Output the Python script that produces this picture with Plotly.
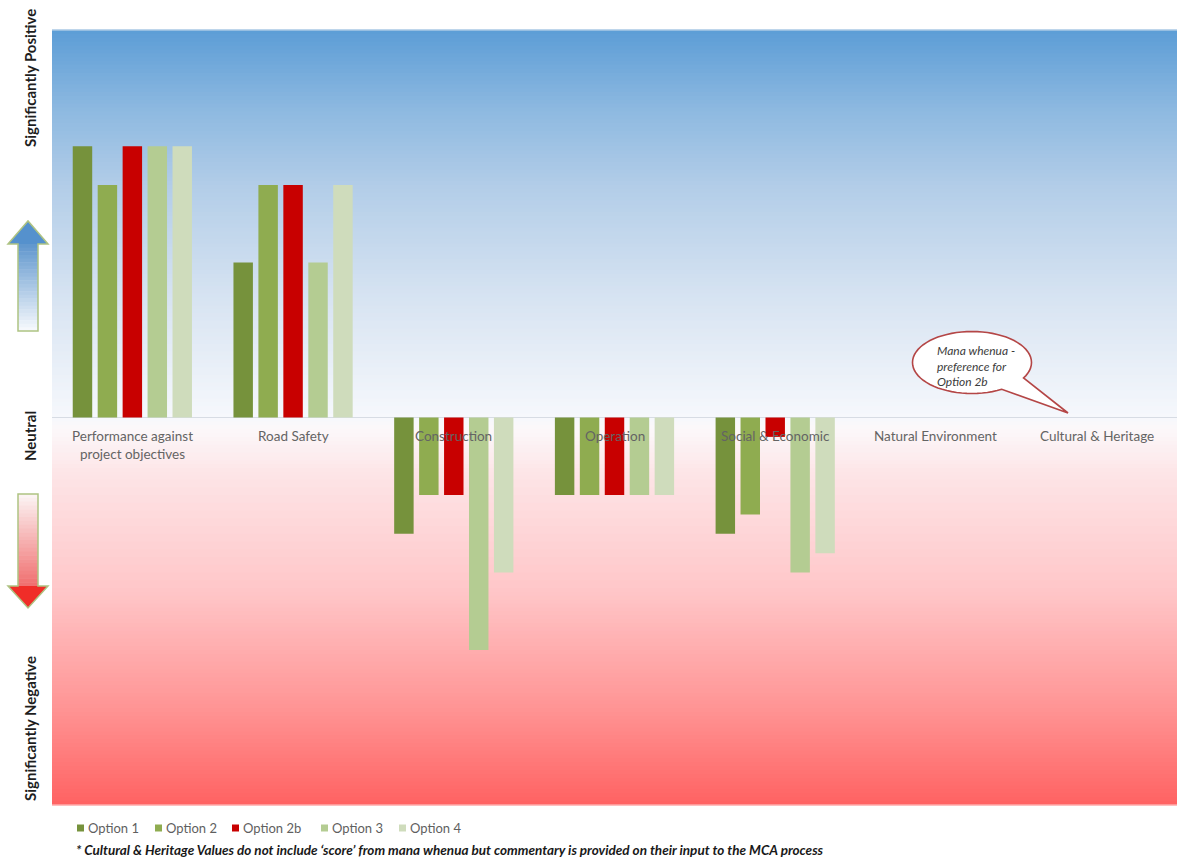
import math
import plotly.graph_objects as go

# ---------------- data ----------------
categories = ["Performance against<br>project objectives", "Road Safety", "Construction",
              "Operation", "Social & Economic", "Natural Environment", "Cultural & Heritage"]
option_names = ["Option 1", "Option 2", "Option 2b", "Option 3", "Option 4"]
option_1 = [7, 4, -3, -2, -3, 0, 0]
option_2 = [6, 6, -2, -2, -2.5, 0, 0]
option_2b = [7, 6, -2, -2, -0.5, 0, 0]
option_3 = [7, 4, -6, -2, -4, 0, 0]
option_4 = [7, 6, -4, -2, -3.5, 0, 0]
series = [option_1, option_2, option_2b, option_3, option_4]
colors = ["rgb(118,146,60)", "rgb(143,172,80)", "rgb(200,0,0)", "rgb(180,204,146)", "rgb(207,220,188)"]

y_labels = ["Significantly Positive", "Neutral", "Significantly Negative"]
bubble_text = "Mana whenua -<br>preference for<br>Option 2b"
footnote = ("* Cultural & Heritage Values do not include \u2018score\u2019 from mana whenua "
            "but commentary is provided on their input to the MCA process")

# ---------------- geometry helpers (pixel -> paper) ----------------
WIDTH, HEIGHT = 1177, 862
L, T, R, B = 52, 30, 0, 57
PW, PH = WIDTH - L - R, HEIGHT - T - B
FONT = "Lato, 'Open Sans', sans-serif"


def px(x):
    return (x - L) / PW


def py(y):
    return (T + PH - y) / PH


def lerp(c1, c2, t):
    return tuple(c1[i] + (c2[i] - c1[i]) * t for i in range(3))


def rgb(c):
    return "rgb(%d,%d,%d)" % tuple(int(round(v)) for v in c)


# background gradient stops (value, colour)
bg_stops = [(-10, (255, 98, 98)), (-7.5, (255, 148, 148)), (-4.5, (255, 198, 200)),
            (-1.5, (253, 228, 230)), (-0.3, (252, 248, 250)), (0, (246, 248, 252)),
            (3, (216, 228, 242)), (6, (178, 205, 232)), (8, (140, 184, 224)),
            (10, (92, 157, 214))]


def bg_color(v):
    for (v0, c0), (v1, c1) in zip(bg_stops[:-1], bg_stops[1:]):
        if v0 <= v <= v1:
            return lerp(c0, c1, (v - v0) / (v1 - v0))
    return bg_stops[-1][1]


fig = go.Figure()

for name, vals, col in zip(option_names, series, colors):
    fig.add_trace(go.Bar(x=categories, y=vals, name=name, marker=dict(color=col, line=dict(width=0)),
                         showlegend=False, hoverinfo="x+y+name"))

shapes = []
# gradient background stripes
n = 200
for i in range(n):
    v0 = -10 + 20 * i / n
    v1 = -10 + 20 * (i + 1) / n
    shapes.append(dict(type="rect", xref="paper", yref="y", x0=0, x1=1, y0=v0, y1=v1 + 0.02,
                       fillcolor=rgb(bg_color((v0 + v1) / 2)), line=dict(width=0), layer="below"))
# zero line
shapes.append(dict(type="line", xref="paper", yref="y", x0=0, x1=1, y0=0, y1=0,
                   line=dict(color="rgb(215,220,228)", width=1), layer="below"))
# thin light edges at top and bottom of plot area
shapes.append(dict(type="line", xref="paper", yref="paper", x0=0, x1=1, y0=1, y1=1,
                   line=dict(color="rgb(170,200,228)", width=1.5), layer="below"))
shapes.append(dict(type="line", xref="paper", yref="paper", x0=0, x1=1, y0=0, y1=0,
                   line=dict(color="rgb(255,170,170)", width=1.5), layer="below"))


# arrows on the left
def arrow(shaft_top, shaft_bot, head_base, tip, c_top, c_bot, head_col, up=True):
    m = 24
    for i in range(m):
        y0 = shaft_top + (shaft_bot - shaft_top) * i / m
        y1 = shaft_top + (shaft_bot - shaft_top) * (i + 1) / m
        shapes.append(dict(type="rect", xref="paper", yref="paper", x0=px(18), x1=px(38),
                           y0=py(y1 + 0.5), y1=py(y0), fillcolor=rgb(lerp(c_top, c_bot, (i + 0.5) / m)),
                           line=dict(width=0)))
    hp = "M %f,%f L %f,%f L %f,%f Z" % (px(8), py(head_base), px(48), py(head_base), px(28), py(tip))
    shapes.append(dict(type="path", xref="paper", yref="paper", path=hp, fillcolor=head_col,
                       line=dict(width=0)))
    if up:
        pts = [(18, shaft_bot), (18, head_base), (8, head_base), (28, tip), (48, head_base),
               (38, head_base), (38, shaft_bot)]
    else:
        pts = [(18, shaft_top), (18, head_base), (8, head_base), (28, tip), (48, head_base),
               (38, head_base), (38, shaft_top)]
    op = "M " + " L ".join("%f,%f" % (px(a), py(b)) for a, b in pts) + " Z"
    shapes.append(dict(type="path", xref="paper", yref="paper", path=op,
                       line=dict(color="rgb(175,195,130)", width=1.5)))


arrow(244, 331, 244, 221, (95, 150, 205), (248, 250, 253), "rgb(85,145,205)", up=True)
arrow(494, 586, 586, 608, (252, 246, 246), (240, 110, 110), "rgb(240,45,40)", up=False)

# speech bubble
cx, cy, rx, ry = 972, 362.5, 59.5, 31
pts = []
for k in range(0, 331, 5):
    a = math.radians(60 + k)
    pts.append((cx + rx * math.cos(a), cy + ry * math.sin(a)))
pts.append((1068, 413))
bp = "M " + " L ".join("%f,%f" % (px(a), py(b)) for a, b in pts) + " Z"
shapes.append(dict(type="path", xref="paper", yref="paper", path=bp, fillcolor="white",
                   line=dict(color="rgb(180,70,70)", width=1.6), layer="above"))

# legend squares
legend_x = [77, 155, 232, 321, 399]
for lx, col in zip(legend_x, colors):
    shapes.append(dict(type="rect", xref="paper", yref="paper", x0=px(lx), x1=px(lx + 7),
                       y0=py(831.5), y1=py(824.5), fillcolor=col, line=dict(width=0)))

annotations = []
for c in categories:
    annotations.append(dict(x=c, y=0, xref="x", yref="y", text=c, showarrow=False, yanchor="top",
                            yshift=-8, font=dict(family=FONT, size=13.5, color="rgb(100,100,100)")))
for lab, yy in zip(y_labels, [78, 436, 729]):
    annotations.append(dict(x=px(30), y=py(yy), xref="paper", yref="paper", text="<b>%s</b>" % lab,
                            textangle=-90, showarrow=False, xanchor="center", yanchor="middle",
                            font=dict(family=FONT, size=15, color="rgb(30,30,30)")))
annotations.append(dict(x=px(935), y=py(366), xref="paper", yref="paper", text="<i>%s</i>" % bubble_text,
                        showarrow=False, xanchor="left", yanchor="middle", align="left",
                        font=dict(family=FONT, size=12, color="rgb(60,60,60)")))
for lx, name in zip(legend_x, option_names):
    annotations.append(dict(x=px(lx + 9), y=py(828), xref="paper", yref="paper", text=name,
                            showarrow=False, xanchor="left", yanchor="middle",
                            font=dict(family=FONT, size=13, color="rgb(95,95,95)")))
annotations.append(dict(x=px(74), y=py(850), xref="paper", yref="paper", text="<b><i>%s</i></b>" % footnote,
                        showarrow=False, xanchor="left", yanchor="middle",
                        font=dict(family=FONT, size=13.5, color="rgb(25,25,25)")))

fig.update_layout(
    width=WIDTH, height=HEIGHT,
    margin=dict(l=L, r=R, t=T, b=B),
    paper_bgcolor="white", plot_bgcolor="white",
    barmode="group", bargap=0.224, bargroupgap=0.22,
    xaxis=dict(range=[-0.5, 6.5], showticklabels=False, showgrid=False, zeroline=False, ticks=""),
    yaxis=dict(range=[-10, 10], showticklabels=False, showgrid=False, zeroline=False, ticks=""),
    shapes=shapes, annotations=annotations, showlegend=False,
    font=dict(family=FONT),
)

fig.write_html("out.html", config={"displayModeBar": False},
               post_script="document.body.style.margin='0';")
